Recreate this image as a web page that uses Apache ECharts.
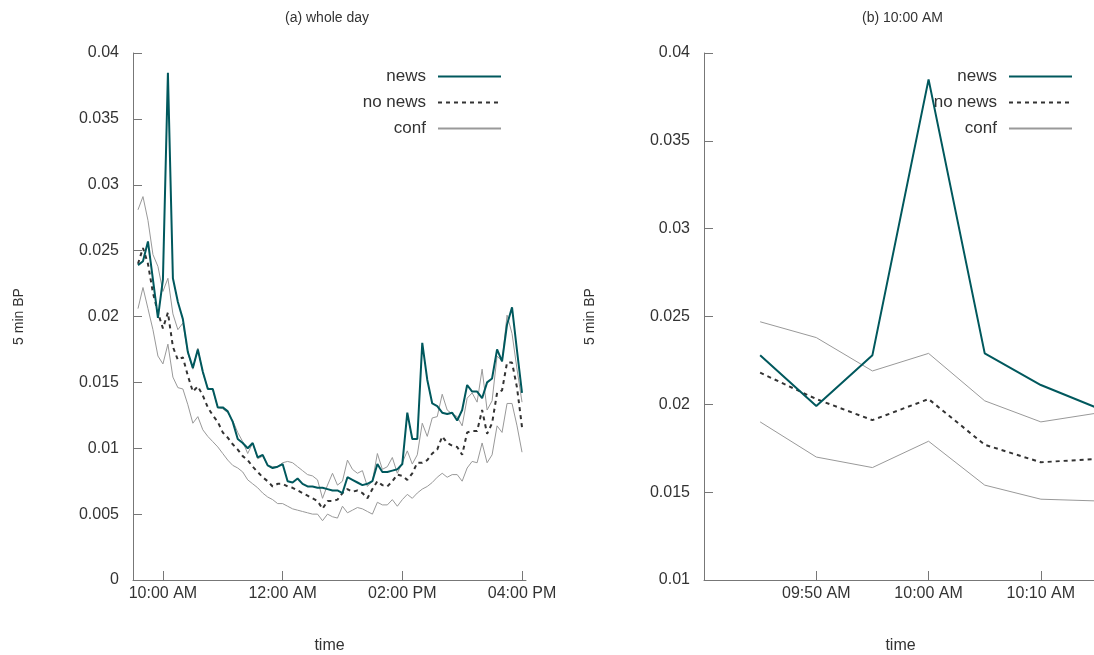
<!DOCTYPE html>
<html>
<head>
<meta charset="utf-8">
<script src="https://cdn.jsdelivr.net/npm/echarts@6/dist/echarts.min.js"></script>
<style>html,body{margin:0;padding:0;background:#fff;}#c{width:1094px;height:655px;}</style>
</head>
<body>
<div id="c"></div>
<script>
// 5-minute intervals, minutes after midnight. The whole-day panel stamps each interval
// at its end (09:35 .. 16:00); the 10:00 AM panel stamps it at its start.
const firstIntervalStart = 570;
const intervalMinutes = 5;

const newsBP = [0.0239,0.0242,0.0257,0.0228,0.0199,0.0228,0.0385,0.0229,0.0211,0.0198,
  0.0173,0.0161,0.0175,0.0158,0.0145,0.0145,0.0131,0.0131,0.0128,0.0120,
  0.0107,0.0104,0.0100,0.0104,0.0093,0.0095,0.0087,0.0085,0.0086,
  0.0088,0.0075,0.0074,0.0077,0.0073,0.0071,0.0071,0.0070,0.0070,0.0069,
  0.0068,0.0068,0.0066,0.0078,0.0076,0.0074,0.0072,0.0073,0.0075,0.0088,
  0.0082,0.0082,0.0083,0.0084,0.0088,0.0127,0.0107,0.0107,0.0180,0.0152,
  0.0134,0.0132,0.0127,0.0126,0.0127,0.0121,0.0129,0.0148,0.0143,0.0143,
  0.0138,0.0150,0.0153,0.0175,0.0166,0.0194,0.0207,0.0174,0.0142];

const noNewsBP = [0.0240,0.0252,0.0240,0.0218,0.0203,0.0191,0.0203,0.0177,0.0167,0.0169,
  0.0155,0.0143,0.0147,0.0140,0.0131,0.0125,0.0120,0.0112,0.0108,0.0103,
  0.0099,0.0094,0.0091,0.0086,0.0082,0.0078,0.0075,0.0071,0.0073,
  0.0073,0.0071,0.0070,0.0068,0.0066,0.0064,0.0062,0.0060,0.0054,0.0060,
  0.0060,0.0061,0.0066,0.0069,0.0067,0.0068,0.0066,0.0062,0.0069,0.0075,
  0.0072,0.0071,0.0075,0.0080,0.0079,0.0076,0.0081,0.0089,0.0089,0.0091,
  0.0096,0.0099,0.0109,0.0104,0.0102,0.0101,0.0095,0.0112,0.0113,0.0113,
  0.0129,0.0111,0.0119,0.0142,0.0144,0.0165,0.0165,0.0146,0.0116];

const confUpperBP = [0.0281,0.0291,0.0273,0.0247,0.0238,0.0219,0.0229,0.0202,0.0190,0.0195,
  0.0172,0.0160,0.0176,0.0157,0.0146,0.0144,0.0131,0.0130,0.0127,0.0121,
  0.0112,0.0105,0.0096,0.0104,0.0092,0.0094,0.0087,0.0086,0.0086,
  0.0089,0.0090,0.0089,0.0086,0.0083,0.0080,0.0079,0.0076,0.0062,0.0072,
  0.0081,0.0072,0.0075,0.0091,0.0084,0.0081,0.0083,0.0071,0.0075,0.0096,
  0.0084,0.0086,0.0093,0.0081,0.0089,0.0098,0.0088,0.0095,0.0119,0.0109,
  0.0123,0.0124,0.0141,0.0129,0.0126,0.0124,0.0117,0.0138,0.0142,0.0135,
  0.0160,0.0129,0.0136,0.0170,0.0166,0.0201,0.0187,0.0160,0.0135];

const confLowerBP = [0.0206,0.0222,0.0206,0.0190,0.0170,0.0164,0.0179,0.0154,0.0146,0.0145,
  0.0133,0.0119,0.0124,0.0114,0.0109,0.0105,0.0101,0.0096,0.0091,0.0087,
  0.0085,0.0082,0.0076,0.0073,0.0070,0.0066,0.0063,0.0061,0.0058,
  0.0058,0.0056,0.0054,0.0053,0.0052,0.0051,0.0050,0.0050,0.0045,0.0050,
  0.0048,0.0047,0.0056,0.0051,0.0053,0.0055,0.0054,0.0052,0.0050,0.0059,
  0.0057,0.0057,0.0061,0.0056,0.0061,0.0065,0.0062,0.0066,0.0069,0.0071,
  0.0074,0.0078,0.0081,0.0078,0.0080,0.0080,0.0075,0.0085,0.0090,0.0089,
  0.0104,0.0089,0.0095,0.0117,0.0112,0.0134,0.0134,0.0117,0.0097];

// panel (b) shows intervals 3..9 (09:45 .. 10:15)
const zoomFrom = 3;
const zoomTo = 10;

const leftTickMinutes = [600, 720, 840, 960];
const leftTickLabels = ['10:00 AM', '12:00 AM', '02:00 PM', '04:00 PM'];
const rightTickMinutes = [590, 600, 610];
const rightTickLabels = ['09:50 AM', '10:00 AM', '10:10 AM'];

const titles = ['(a) whole day', '(b) 10:00 AM'];
const legendNames = ['news', 'no news', 'conf'];

const intervalStarts = newsBP.map((_, k) => firstIntervalStart + k * intervalMinutes);

function pairs(vals, from, to, shift) {
  const out = [];
  for (let k = from; k < to; k++) out.push([intervalStarts[k] + shift, vals[k]]);
  return out;
}

const FONT = 'Liberation Sans, Arial, sans-serif';
const TXT = '#333';
const AX = '#777';
const TEAL = '#00585d';

function xAxis(gi, min, max, ticks, labels) {
  return {
    type: 'value', gridIndex: gi, min: min, max: max,
    name: 'time', nameLocation: 'middle', nameGap: 58,
    nameTextStyle: {fontFamily: FONT, fontSize: 16, color: TXT},
    axisLine: {show: true, onZero: false, lineStyle: {color: AX, width: 1}},
    axisTick: {show: true, inside: true, length: 9, customValues: ticks, lineStyle: {color: AX}},
    axisLabel: {customValues: ticks, margin: 6, fontFamily: FONT, fontSize: 16, color: TXT,
      formatter: v => labels[ticks.indexOf(v)] || ''},
    splitLine: {show: false}
  };
}
function yAxis(gi, min, max) {
  return {
    type: 'value', gridIndex: gi, min: min, max: max, interval: 0.005,
    name: '5 min BP', nameLocation: 'middle', nameGap: 107, nameRotate: 90,
    nameTextStyle: {fontFamily: FONT, fontSize: 14, color: TXT},
    axisLine: {show: true, onZero: false, lineStyle: {color: AX, width: 1}},
    axisTick: {show: true, inside: true, length: 9, lineStyle: {color: AX}},
    axisLabel: {margin: 14, fontFamily: FONT, fontSize: 16, color: TXT, padding: [4, 0, 0, 0]},
    splitLine: {show: false}
  };
}
function mkSeries(gi, from, to, shift) {
  const base = {type: 'line', xAxisIndex: gi, yAxisIndex: gi, symbol: 'none', showSymbol: false, animation: false, silent: true};
  return [
    Object.assign({}, base, {name: 'conf', data: pairs(confUpperBP, from, to, shift), lineStyle: {color: '#999', width: 1}, itemStyle: {color: '#999'}, z: 2}),
    Object.assign({}, base, {name: 'conf', data: pairs(confLowerBP, from, to, shift), lineStyle: {color: '#999', width: 1}, itemStyle: {color: '#999'}, z: 2}),
    Object.assign({}, base, {name: 'no news', data: pairs(noNewsBP, from, to, shift), lineStyle: {color: '#333', width: 2, type: [4, 4]}, itemStyle: {color: '#333'}, z: 3}),
    Object.assign({}, base, {name: 'news', data: pairs(newsBP, from, to, shift), lineStyle: {color: TEAL, width: 2}, itemStyle: {color: TEAL}, z: 4})
  ];
}
function mkLegend(right) {
  return {
    data: legendNames, orient: 'vertical', right: right, top: 63, align: 'right',
    itemWidth: 63, itemHeight: 20, itemGap: 9, selectedMode: false,
    itemStyle: {opacity: 0},
    textStyle: {fontFamily: FONT, fontSize: 17, color: TXT, padding: [0, 7, 0, 0]}
  };
}

const chart = echarts.init(document.getElementById('c'), null, {renderer: 'canvas'});
chart.setOption({
  animation: false,
  backgroundColor: '#fff',
  title: [
    {text: titles[0], left: 280, top: 6, textStyle: {fontFamily: FONT, fontSize: 14, fontWeight: 'normal', color: TXT}},
    {text: titles[1], left: 857, top: 6, textStyle: {fontFamily: FONT, fontSize: 14, fontWeight: 'normal', color: TXT}}
  ],
  legend: [mkLegend(587), mkLegend(16)],
  grid: [
    {left: 133, width: 393, top: 53, bottom: 75, outerBoundsMode: 'none', containLabel: false},
    {left: 704, right: -3, top: 53, bottom: 75, outerBoundsMode: 'none', containLabel: false}
  ],
  xAxis: [
    xAxis(0, 570, 964, leftTickMinutes, leftTickLabels),
    xAxis(1, 580, 615, rightTickMinutes, rightTickLabels)
  ],
  yAxis: [yAxis(0, 0, 0.04), yAxis(1, 0.01, 0.04)],
  series: mkSeries(0, 0, newsBP.length, intervalMinutes).concat(mkSeries(1, zoomFrom, zoomTo, 0))
});
</script>
</body>
</html>
